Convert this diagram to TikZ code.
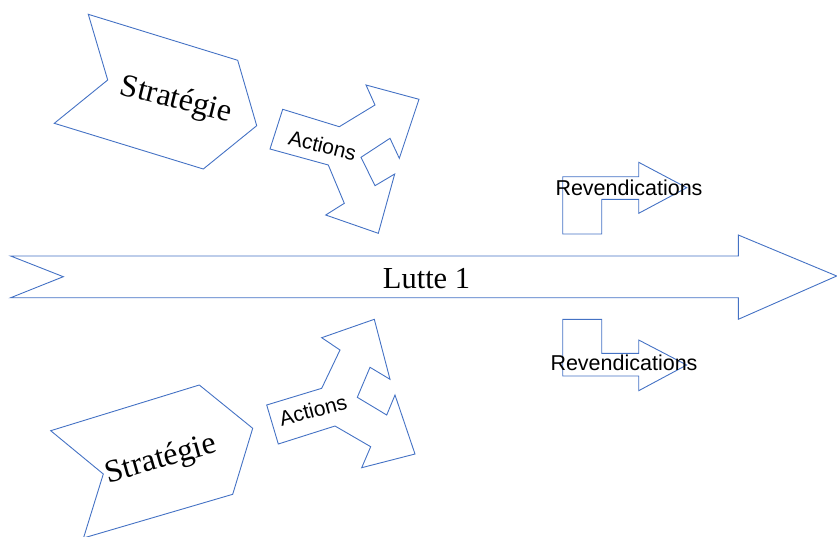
\documentclass[tikz,border=0pt]{standalone}
\usepackage{fontspec}
\setmainfont{Liberation Serif}
\setsansfont{Liberation Sans}
\definecolor{shapeblue}{HTML}{4472C4}
\tikzset{
  outlineshape/.style={draw=shapeblue, line width=0.9pt, line join=miter},
  serifbig/.style={font=\fontsize{32}{38}\selectfont, inner sep=0pt, text=black},
  luttelbl/.style={font=\fontsize{30.5}{36}\selectfont, inner sep=0pt, text=black},
  sanslbl/.style={font=\sffamily\fontsize{21}{25}\selectfont, inner sep=0pt, text=black},
  revlbl/.style={font=\sffamily\fontsize{21.5}{25}\selectfont, inner sep=0pt, text=black}
}
\begin{document}
\begin{tikzpicture}[x=1pt,y=-1pt]
\useasboundingbox (0,0) rectangle (837,536);
% top strategy chevron
\draw[outlineshape] (88.3,14.3) -- (237.7,60.3) -- (256.7,125.7) -- (203.3,169) -- (54.3,123.3) -- (107.7,80) -- cycle;
\node[serifbig, rotate=-14] (strat1) at (176,100.5) {Stratégie};
% top actions arrow
\draw[outlineshape] (282.7,109.3) -- (339.3,126.7) -- (375,105) -- (366,85) -- (419,99.3) -- (399.3,158.3) -- (390,138.3) -- (361,157.3) -- (375,185.7) -- (394.7,174) -- (378.3,233.3) -- (325.7,215) -- (344.3,203.3) -- (328.3,165) -- (270,149) -- cycle;
\node[sanslbl, rotate=-14] (act1) at (322.5,145.5) {Actions};
% top revendications arrow
\draw[outlineshape] (562.7,176.7) -- (638.7,176.7) -- (638.7,162.3) -- (686.7,187.7) -- (638.7,213.3) -- (638.7,199.3) -- (601.7,199.3) -- (601.7,234) -- (562.7,234) -- cycle;
\node[revlbl] (rev1) at (629,188) {Revendications};
% main arrow
\draw[outlineshape] (10.7,256) -- (738.3,256) -- (738.3,235) -- (836.7,276) -- (738.3,319.3) -- (738.3,297.7) -- (10.7,297.7) -- (63.3,276.7) -- cycle;
\node[luttelbl] (lutte) at (426.5,279) {Lutte 1};
% bottom revendications arrow
\draw[outlineshape] (562.7,319.3) -- (601.7,319.3) -- (601.7,353.3) -- (638.7,353.3) -- (638.7,340) -- (686.7,365) -- (638.7,390.7) -- (638.7,376) -- (562.7,376) -- cycle;
\node[revlbl] (rev2) at (624,363) {Revendications};
% bottom actions arrow
\draw[outlineshape] (266.7,405) -- (321.7,388.3) -- (340,350) -- (321.7,337.7) -- (374.3,319.3) -- (390,379.3) -- (370,367.3) -- (357.3,397.3) -- (386.7,415) -- (395,395) -- (415,454) -- (361.7,467.7) -- (370.7,446.7) -- (335,426) -- (278.3,444) -- cycle;
\node[sanslbl, rotate=15] (act2) at (313,410) {Actions};
% bottom strategy chevron
\draw[outlineshape] (50.7,430.7) -- (199.3,385) -- (252.7,428.3) -- (232.7,494.3) -- (83.5,538) -- (103.3,474) -- cycle;
\node[serifbig, rotate=16] (strat2) at (161,460) {Stratégie};
\end{tikzpicture}
\end{document}
